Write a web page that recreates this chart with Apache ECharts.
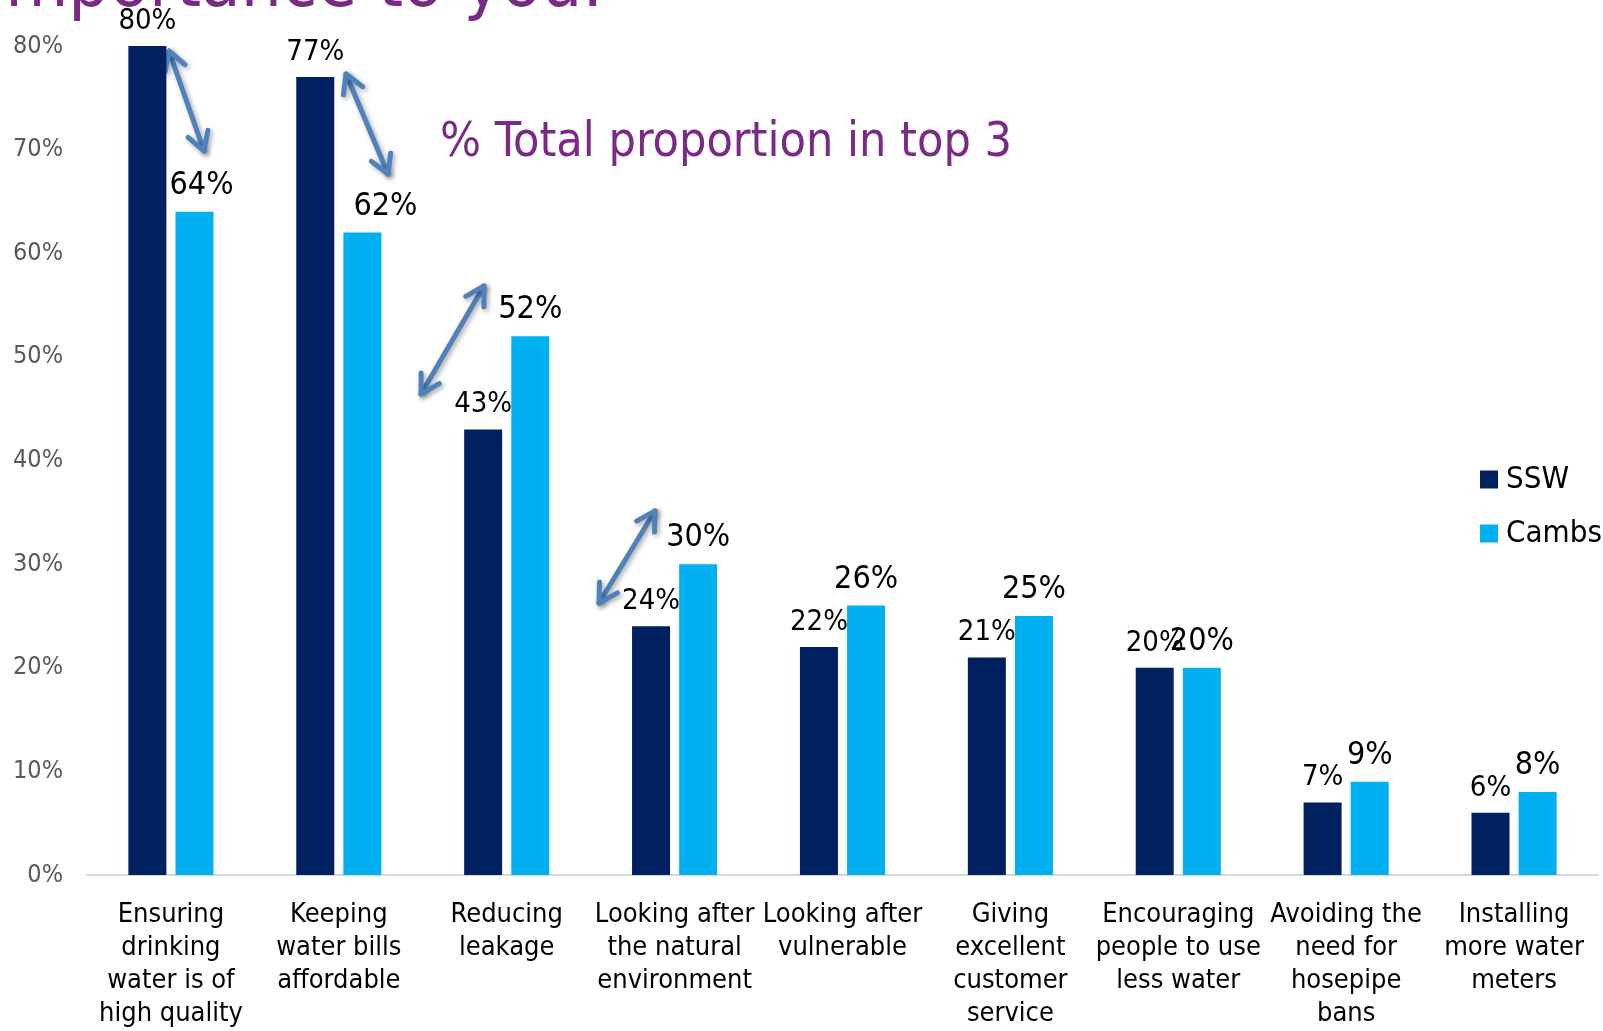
<!DOCTYPE html>
<html>
<head>
<meta charset="utf-8">
<title>% Total proportion in top 3</title>
<script src="https://cdn.jsdelivr.net/npm/echarts@6/dist/echarts.min.js"></script>
<style>
  html, body { margin: 0; padding: 0; background: #ffffff; }
  #chart { width: 1603px; height: 1031px; }
</style>
</head>
<body>
<div id="chart"></div>
<script>
// Service priorities: share of respondents ranking each area in their top 3
const categories = [
  'Ensuring\ndrinking\nwater is of\nhigh quality',
  'Keeping\nwater bills\naffordable',
  'Reducing\nleakage',
  'Looking after\nthe natural\nenvironment',
  'Looking after\nvulnerable',
  'Giving\nexcellent\ncustomer\nservice',
  'Encouraging\npeople to use\nless water',
  'Avoiding the\nneed for\nhosepipe\nbans',
  'Installing\nmore water\nmeters'
];
const sswValues   = [80, 77, 43, 24, 22, 21, 20, 7, 6];
const cambsValues = [64, 62, 52, 30, 26, 25, 20, 9, 8];
const yTicks = [0, 10, 20, 30, 40, 50, 60, 70, 80];

const FONT = "'DejaVu Sans Condensed', 'Liberation Sans', sans-serif";
const NAVY = '#002060';
const CYAN = '#00B0F0';
const PURPLE = '#7A2A85';
const ARROW = '#4F81BD';

// a few value labels are nudged sideways so they clear the comparison arrows
const cambsLabelShift = { 0: [7, 0], 1: [23, 0] };

const chart = echarts.init(document.getElementById('chart'), null, { renderer: 'canvas' });

// double-headed comparison arrows (pixel endpoints)
const arrowSegments = [
  [[169, 51], [204, 151]],
  [[346, 74], [388, 174]],
  [[484, 286], [421, 394]],
  [[655, 511], [599, 603]]
];

function arrowGraphic(seg) {
  const [a, b] = seg;
  const ang = Math.atan2(b[1] - a[1], b[0] - a[0]);
  const L = 21, spread = Math.PI / 6;
  const head = (p, dir) => {
    const p1 = [p[0] - L * Math.cos(dir - spread), p[1] - L * Math.sin(dir - spread)];
    const p2 = [p[0] - L * Math.cos(dir + spread), p[1] - L * Math.sin(dir + spread)];
    return [p1, p, p2];
  };
  const style = {
    stroke: ARROW, lineWidth: 5, fill: null, lineCap: 'round', lineJoin: 'round',
    shadowBlur: 5, shadowColor: 'rgba(0,0,0,0.35)', shadowOffsetX: 2, shadowOffsetY: 2
  };
  return {
    type: 'group',
    children: [
      { type: 'polyline', shape: { points: [a, b] }, style },
      { type: 'polyline', shape: { points: head(b, ang) }, style },
      { type: 'polyline', shape: { points: head(a, ang + Math.PI) }, style }
    ]
  };
}

const option = {
  backgroundColor: '#ffffff',
  animation: false,
  textStyle: { fontFamily: FONT },
  grid: { left: 87, right: 5, top: 46, bottom: 156, containLabel: false },
  legend: {
    data: ['SSW', 'Cambs'],
    orient: 'vertical',
    left: 1480,
    top: 464,
    icon: 'rect',
    itemWidth: 18,
    itemHeight: 18,
    itemGap: 23,
    padding: 0,
    textStyle: { fontFamily: FONT, fontSize: 31, color: '#000', padding: [0, 0, 0, 3] }
  },
  xAxis: {
    type: 'category',
    data: categories,
    axisLine: { lineStyle: { color: '#D9D9D9', width: 2 } },
    axisTick: { show: false },
    axisLabel: {
      interval: 0,
      margin: 23,
      fontFamily: FONT,
      fontSize: 27,
      lineHeight: 33,
      color: '#000',
      align: 'center'
    }
  },
  yAxis: {
    type: 'value',
    min: yTicks[0],
    max: yTicks[yTicks.length - 1],
    interval: yTicks[1] - yTicks[0],
    axisLine: { show: false },
    axisTick: { show: false },
    splitLine: { show: false },
    axisLabel: { formatter: '{value}%', fontFamily: FONT, fontSize: 25, color: '#595959', margin: 24 }
  },
  series: [
    {
      name: 'SSW',
      type: 'bar',
      data: sswValues,
      barWidth: 38,
      barGap: '24%',
      itemStyle: { color: NAVY },
      label: {
        show: true, position: 'top', distance: 10,
        formatter: '{c}%', fontFamily: FONT, fontSize: 29, color: '#000'
      }
    },
    {
      name: 'Cambs',
      type: 'bar',
      data: cambsValues.map((v, i) => cambsLabelShift[i] ? { value: v, label: { offset: cambsLabelShift[i] } } : v),
      barWidth: 38,
      barGap: '24%',
      itemStyle: { color: CYAN },
      label: {
        show: true, position: 'top', distance: 10,
        formatter: '{c}%', fontFamily: FONT, fontSize: 32, color: '#000'
      }
    }
  ],
  graphic: [
    {
      type: 'text',
      right: 1000,
      top: -49,
      style: { text: 'importance to you.', font: "72px " + FONT, fill: PURPLE }
    },
    {
      type: 'text',
      left: 440,
      top: 120,
      style: { text: '% Total proportion in top 3', font: "48px " + FONT, fill: PURPLE }
    }
  ].concat(arrowSegments.map(arrowGraphic))
};

chart.setOption(option);
</script>
</body>
</html>
